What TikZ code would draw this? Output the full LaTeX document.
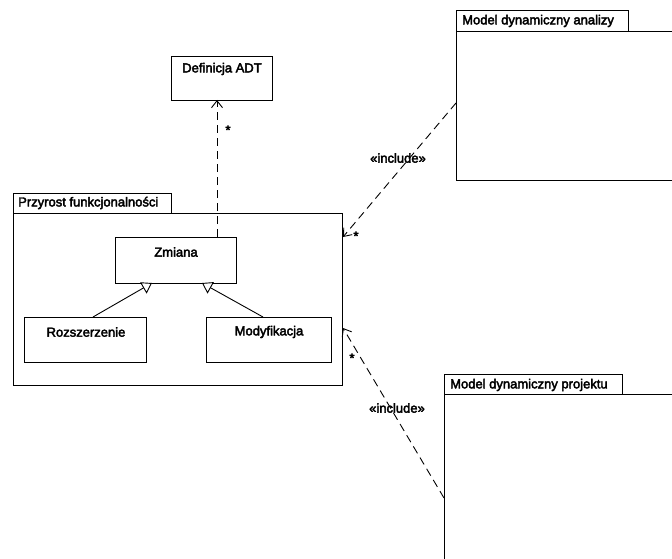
\documentclass[tikz,border=0pt]{standalone}
\usepackage{fontspec}
\setmainfont{Liberation Sans}[FakeBold=3,BoldFont={Liberation Sans}]
\usetikzlibrary{arrows.meta}
\begin{document}
\begin{tikzpicture}[x=1pt,y=-1pt,
  every node/.style={font=\fontsize{13}{15}\selectfont\bfseries},
  ln/.style={draw=black,line width=0.9pt},
  dep/.style={ln,dash pattern=on 8pt off 5pt,-{Straight Barb[length=7pt,width=11pt,line width=0.9pt]}},
  gen/.style={ln,-{Triangle[open,length=10pt,width=13pt,line width=0.9pt,fill=white]}},
  lbl/.style={inner sep=0pt,anchor=center},
  mult/.style={inner sep=0pt,font=\fontsize{13}{13}\selectfont\bfseries}]
\useasboundingbox (0,0) rectangle (672,559);
% Definicja ADT
\draw[ln] (171,56) rectangle (272,100);
\node[lbl] (defT) at (222,69) {Definicja ADT};
\coordinate (defB) at (217,100);
% Przyrost package
\draw[ln] (13,193) rectangle (171,213);
\draw[ln] (13,213) rectangle (342,385);
\node[lbl,anchor=west] (przT) at (18,203) {Przyrost funkcjonalności};
% Zmiana
\draw[ln] (115,237) rectangle (236,283);
\node[lbl] (zm) at (176,252) {Zmiana};
\draw[ln] (24,317) rectangle (146,362);
\node[lbl] (roz) at (86,332) {Rozszerzenie};
\draw[ln] (206,317) rectangle (331,362);
\node[lbl] (mod) at (269,332) {Modyfikacja};
\coordinate (zmT) at (217,237);
\coordinate (zmB1) at (152,283);
\coordinate (zmB2) at (202,283);
\coordinate (rozT) at (93,317);
\coordinate (modT) at (263,317);
\draw[gen] (rozT) -- (zmB1);
\draw[gen] (modT) -- (zmB2);
\draw[dep] (zmT) -- (defB);
\node[mult] (m1) at (228,130) {*};
% Model dynamiczny analizy
\draw[ln] (456,10) rectangle (628,31);
\draw[ln] (672,31) -- (456,31) -- (456,180) -- (672,180);
\node[lbl,anchor=west] (mda) at (462,21) {Model dynamiczny analizy};
% Model dynamiczny projektu
\draw[ln] (444,374) rectangle (622,394);
\draw[ln] (672,394) -- (444,394) -- (444,559);
\node[lbl,anchor=west] (mdp) at (450,385) {Model dynamiczny projektu};
% include arrows
\coordinate (a1s) at (456,103);
\coordinate (a1e) at (343,237);
\draw[dep] (a1s) -- (a1e);
\node[lbl] (inc1) at (398,158) {«include»};
\node[mult] (m2) at (356,236) {*};
\coordinate (a2s) at (444,498);
\coordinate (a2e) at (343,328);
\draw[dep] (a2s) -- (a2e);
\node[lbl] (inc2) at (397,408) {«include»};
\node[mult] (m3) at (352,358) {*};
\end{tikzpicture}
\end{document}
